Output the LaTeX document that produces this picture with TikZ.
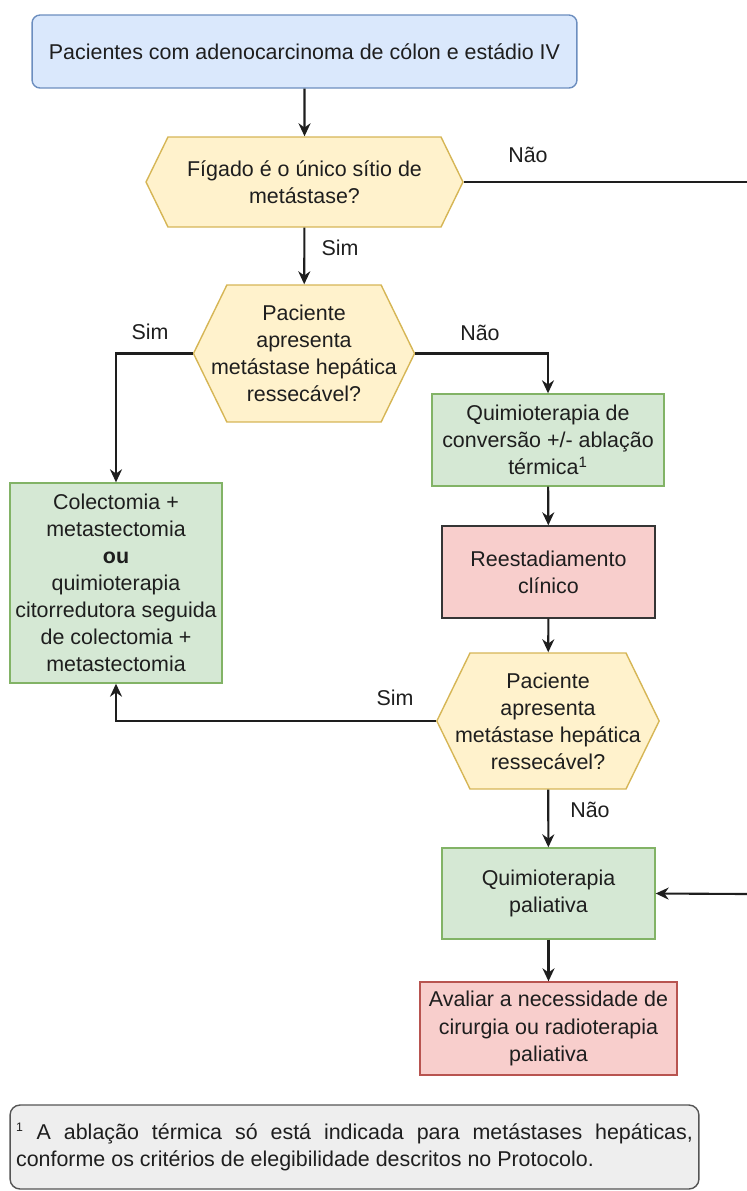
\documentclass[tikz,border=0pt]{standalone}
\usepackage{fontspec}
\setmainfont{Liberation Sans}
\usetikzlibrary{shapes.symbols,arrows.meta}

\definecolor{texto}{HTML}{1E1E1E}
\definecolor{azulF}{HTML}{DAE8FC}
\definecolor{azulB}{HTML}{6C8EBF}
\definecolor{amarF}{HTML}{FFF2CC}
\definecolor{amarB}{HTML}{D6B656}
\definecolor{verdeF}{HTML}{D5E8D4}
\definecolor{verdeB}{HTML}{82B366}
\definecolor{vermF}{HTML}{F8CECC}
\definecolor{vermB}{HTML}{B85450}
\definecolor{cinzaF}{HTML}{EEEEEE}
\definecolor{cinzaB}{HTML}{555555}

\tikzset{
    fonte/.style={font=\fontsize{12.2pt}{15.4pt}\selectfont, text=texto},
    caixa/.style={fonte, draw, shape=rectangle, align=center, inner sep=2pt, line width=0.8pt},
    decisao/.style={fonte, draw=amarB, fill=amarF, shape=signal, signal to=west and east, signal pointer angle=128, align=center, inner sep=1pt, line width=0.8pt},
    verde/.style={caixa, fill=verdeF, draw=verdeB},
    vermelho/.style={caixa, fill=vermF, draw=vermB},
    seta/.style={draw=texto, line width=1.2pt, -{Stealth[length=0.26cm, width=0.24cm]}},
    liga/.style={draw=texto, line width=1.2pt},
    rotulo/.style={fonte}
}

\begin{document}
\begin{tikzpicture}[x=0.02cm, y=-0.02cm]
            \useasboundingbox (0, 0) rectangle (747, 1191);

            \node[caixa, rounded corners=0.16cm, fill=azulF, draw=azulB, minimum width=10.9cm, minimum height=1.46cm] (IN) at (304.5, 51.5) {Pacientes com adenocarcinoma de cólon e estádio IV};
            \node[decisao, minimum width=6.34cm, minimum height=1.8cm] (FG) at (304.5, 182) {Fígado é o único sítio de\\metástase?};
            \node[decisao, inner xsep=-9pt, minimum width=4.4cm, minimum height=2.74cm] (RA) at (304, 353.5) {Paciente\\apresenta\\metástase hepática\\ressecável?};

            \node[verde, minimum width=4.24cm, minimum height=4cm] (CM) at (116, 583) {Colectomia +\\metastectomia\\\textbf{ou}\\quimioterapia\\citorredutora seguida\\de colectomia +\\metastectomia};
            \node[verde, minimum width=4.64cm, minimum height=1.84cm] (QC) at (548, 440) {Quimioterapia de\\conversão +/- ablação\\térmica\textsuperscript{1}};
            \node[vermelho, draw=texto!90, minimum width=4.26cm, minimum height=1.84cm] (RE) at (548.5, 572) {Reestadiamento\\clínico};
            \node[decisao, inner xsep=-8.5pt, minimum width=4.44cm, minimum height=2.72cm] (RB) at (548, 721) {Paciente\\apresenta\\metástase hepática\\ressecável?};
            \node[verde, minimum width=4.26cm, minimum height=1.82cm] (QP) at (548.5, 893.5) {Quimioterapia\\paliativa};
            \node[vermelho, minimum width=5.14cm, minimum height=1.86cm] (AV) at (548.5, 1028.5) {Avaliar a necessidade de\\cirurgia ou radioterapia\\paliativa};

            \node[caixa, rounded corners=0.2cm, fill=cinzaF, draw=cinzaB, minimum width=13.78cm, minimum height=1.68cm, text width=13.54cm, align=justify] (NT) at (354.5, 1147) {\textsuperscript{\scriptsize 1} A ablação térmica só está indicada para metástases hepáticas,\linebreak conforme os critérios de elegibilidade descritos no Protocolo.};

            \coordinate (DA) at (747, 182);
            \coordinate (DB) at (747, 894);

            \node[rotulo] (LA) at (528, 155) {Não};
            \node[rotulo] (LB) at (340, 248) {Sim};
            \node[rotulo] (LC) at (150, 332) {Sim};
            \node[rotulo] (LD) at (480, 333) {Não};
            \node[rotulo] (LE) at (395, 698) {Sim};
            \node[rotulo] (LF) at (590, 810) {Não};

            \draw[seta] (IN) -- (FG);
            \draw[liga] (FG.east) -- (DA);
            \draw[seta] (FG) -- (RA);
            \draw[seta] (RA.west) -| (CM.north);
            \draw[seta] (RA.east) -| (QC.north);
            \draw[seta] (QC) -- (RE);
            \draw[seta] (RE) -- (RB);
            \draw[seta] (RB.west) -| (CM.south);
            \draw[seta] (RB) -- (QP);
            \draw[seta] (DB) -- (QP.east);
            \draw[seta] (QP) -- (AV);
        \end{tikzpicture}
\end{document}
